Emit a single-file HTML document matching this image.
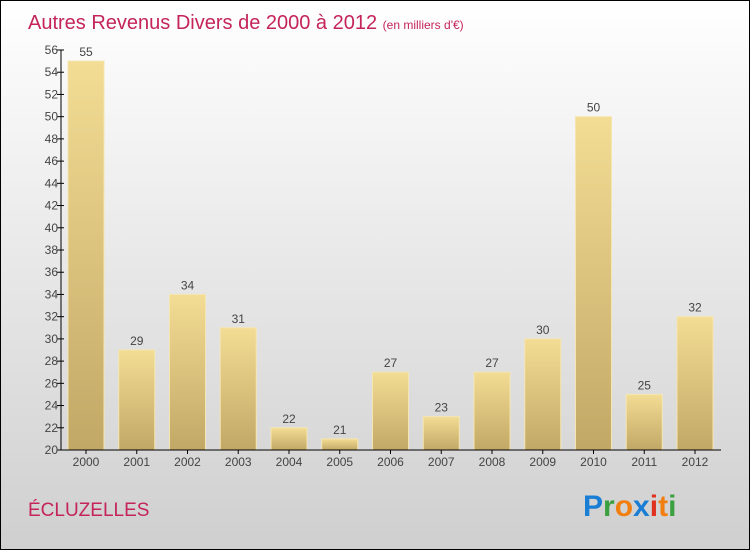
<!DOCTYPE html>
<html><head><meta charset="utf-8"><style>
body{margin:0}
#c{width:750px;height:550px;position:relative;overflow:hidden;font-family:"Liberation Sans",sans-serif}
</style></head><body>
<div id="c">
<svg width="750" height="550" xmlns="http://www.w3.org/2000/svg">
<defs>
<linearGradient id="bg" x1="0" y1="0" x2="0" y2="1"><stop offset="0" stop-color="#ffffff"/><stop offset="1" stop-color="#cfcfcf"/></linearGradient>
<linearGradient id="bar" x1="0" y1="0" x2="0" y2="1"><stop offset="0" stop-color="#f3dc94"/><stop offset="1" stop-color="#c2a866"/></linearGradient>
</defs>
<rect x="0.5" y="0.5" width="749" height="549" fill="url(#bg)" stroke="#000"/>
<text x="28" y="29" font-size="20" fill="#c4245a">Autres Revenus Divers de 2000 à 2012 <tspan font-size="12" fill="#c4245a">(en milliers d'€)</tspan></text>
<g id="plot"></g>
<text x="28" y="516" font-size="19" fill="#c4245a">ÉCLUZELLES</text>
<g font-size="30" font-weight="bold" font-family="Liberation Sans, sans-serif">
<text x="583" y="516"><tspan fill="#1a7fd4">P</tspan><tspan fill="#3aa040">r</tspan><tspan fill="#f07f10">o</tspan><tspan fill="#1a7fd4">x</tspan><tspan fill="#e03020">i</tspan><tspan fill="#f07f10">t</tspan><tspan fill="#3aa040">i</tspan></text>
</g>
</svg>
</div>
<script>
const categories=["2000","2001","2002","2003","2004","2005","2006","2007","2008","2009","2010","2011","2012"];
const values=[55,29,34,31,22,21,27,23,27,30,50,25,32];
const yTicks=[20,22,24,26,28,30,32,34,36,38,40,42,44,46,48,50,52,54,56];
const NS="http://www.w3.org/2000/svg";
const plotG=document.getElementById('plot');
const yMin=20,yMax=56,plotTop=50,plotBot=450,plotLeft=61,plotRight=721;
const yS=v=>plotBot-(v-yMin)/(yMax-yMin)*(plotBot-plotTop);
const step=50.75,x0=86,bw=36;
const xS=i=>x0+i*step;
function el(t,a){const e=document.createElementNS(NS,t);for(const k in a)e.setAttribute(k,a[k]);plotG.appendChild(e);return e;}
values.forEach((v,i)=>{
  const r=el('rect',{x:xS(i)-bw/2,y:yS(v),width:bw,height:plotBot-yS(v),fill:'url(#bar)',stroke:'#f5e6b0','stroke-width':1});
  
  
  const t=el('text',{x:xS(i),y:yS(v)-5,'text-anchor':'middle','font-size':12,fill:'#444'});
  t.textContent=v;
  
  
  const c=el('text',{x:xS(i),y:plotBot+16,'text-anchor':'middle','font-size':12,fill:'#444'});
  c.textContent=categories[i];
  
  
  el('line',{x1:xS(i),x2:xS(i),y1:plotBot,y2:plotBot+4,stroke:'#000'});
});
yTicks.forEach(v=>{
  el('line',{x1:plotLeft-4,x2:plotLeft+3,y1:yS(v),y2:yS(v),stroke:'#000'});
  const t=el('text',{x:plotLeft-3,y:yS(v)+4,'text-anchor':'end','font-size':12,fill:'#444'});
  t.textContent=v;
  
  
});
const ya=el('line',{x1:plotLeft,x2:plotLeft,y1:plotTop,y2:plotBot,stroke:'#000'});


const xa=el('line',{x1:plotLeft,x2:plotRight,y1:plotBot,y2:plotBot,stroke:'#000'});


</script>
</body></html>
